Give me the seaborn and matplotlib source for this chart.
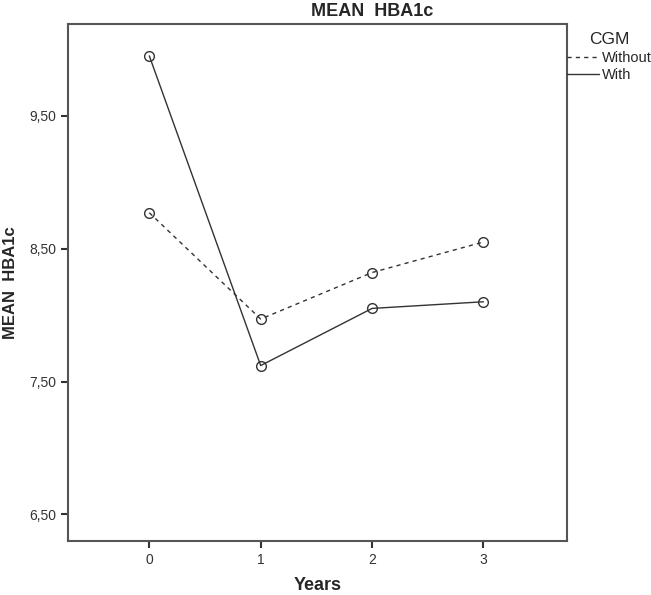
import pandas as pd
import seaborn as sns
import matplotlib.pyplot as plt
from matplotlib.lines import Line2D

years = [0, 1, 2, 3]
with_cgm = [9.95, 7.62, 8.05, 8.10]
without_cgm = [8.77, 7.97, 8.32, 8.55]
y_ticks = [6.5, 7.5, 8.5, 9.5]
y_labels = ["6,50", "7,50", "8,50", "9,50"]

df = pd.DataFrame({
    "Years": years * 2,
    "HBA1c": without_cgm + with_cgm,
    "CGM": ["Without"] * 4 + ["With"] * 4,
})

sns.set_style("white")
plt.rcParams['font.family'] = ['Liberation Sans', 'DejaVu Sans']

fig = plt.figure(figsize=(6.51, 5.95), dpi=100)
ax = fig.add_axes([68 / 651, 1 - 541 / 595, (567 - 68) / 651, (541 - 24) / 595])

sns.lineplot(data=df, x="Years", y="HBA1c", style="CGM",
             dashes={"Without": (3, 3), "With": ""},
             markers={"Without": "o", "With": "o"},
             color="#333333", linewidth=1.0, markersize=7,
             markerfacecolor="none", markeredgecolor="#333333",
             markeredgewidth=1.0, legend=False, ax=ax)

ax.set_xlim(-0.73, 3.75)
ax.set_ylim(6.30, 10.19)
ax.set_xticks(years)
ax.set_xticklabels([str(y) for y in years])
ax.set_yticks(y_ticks)
ax.set_yticklabels(y_labels)
ax.tick_params(axis="both", direction="out", length=5, width=1.5,
               color="#333333", labelcolor="#333333", labelsize=10,
               left=True, bottom=True)
for s in ax.spines.values():
    s.set_color("#555555")
    s.set_linewidth(1.5)

ax.set_xlabel("Years", fontsize=13, fontweight="bold", labelpad=7)
ax.set_ylabel("MEAN  HBA1c", fontsize=12, fontweight="bold", labelpad=8)
fig.text(372 / 651, 1 - 11 / 595, "MEAN  HBA1c", ha="center", va="center",
         fontsize=13, fontweight="bold")

handles = [Line2D([], [], color="#333333", lw=1.0, ls=(0, (3, 3))),
           Line2D([], [], color="#333333", lw=1.0)]
leg = fig.legend(handles, ["Without", "With"], title="CGM",
                 loc="upper left", bbox_to_anchor=(567 / 651, 1 - 32 / 595),
                 frameon=False, fontsize=10.5, title_fontsize=12.5,
                 handlelength=2.2, handletextpad=0.2, labelspacing=0.25,
                 borderpad=0, borderaxespad=0)

fig.savefig("out.png", dpi=100)
